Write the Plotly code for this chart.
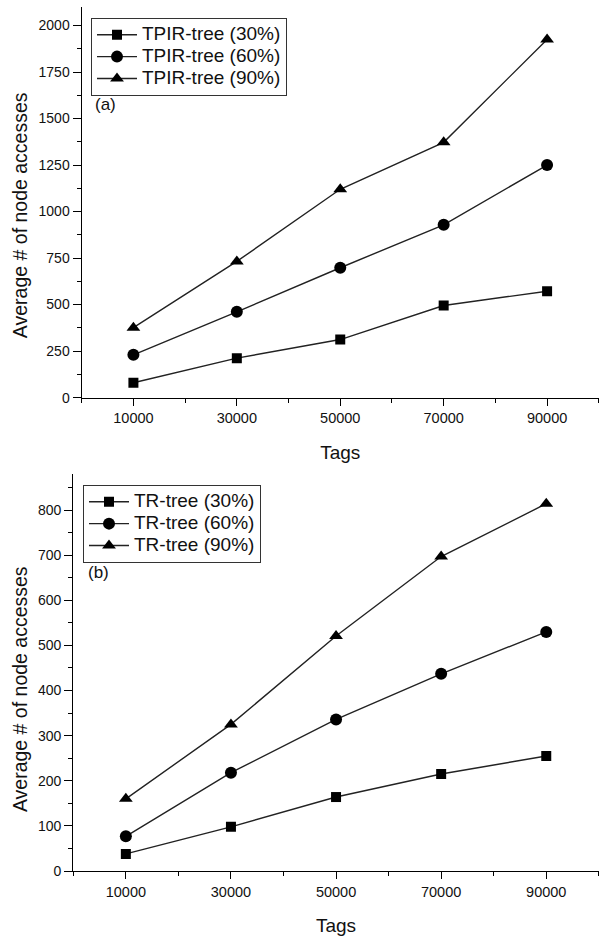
import plotly.graph_objects as go

tags = [10000, 30000, 50000, 70000, 90000]

# (a) TPIR-tree
tpir_30 = [80, 212, 312, 495, 572]
tpir_60 = [230, 461, 698, 929, 1250]
tpir_90 = [376, 732, 1120, 1372, 1925]

# (b) TR-tree
tr_30 = [38, 98, 164, 215, 255]
tr_60 = [77, 218, 336, 437, 530]
tr_90 = [160, 325, 521, 697, 814]

x_tickvals = [10000, 30000, 50000, 70000, 90000]
x_ticktext = ["10000", "30000", "50000", "70000", "90000"]
x_minor = [0, 20000, 40000, 60000, 80000, 100000]
y_title = "Average # of node accesses"

FONT = "Liberation Sans, Arial, sans-serif"
LINE = dict(color="#222222", width=1.4)

fig = go.Figure()

series_a = [("TPIR-tree (30%)", tpir_30, "square", 10),
            ("TPIR-tree (60%)", tpir_60, "circle", 12),
            ("TPIR-tree (90%)", tpir_90, "triangle-up", 12)]
series_b = [("TR-tree (30%)", tr_30, "square", 10),
            ("TR-tree (60%)", tr_60, "circle", 12),
            ("TR-tree (90%)", tr_90, "triangle-up", 12)]


def big(s):
    return '<span style="font-size:19px">' + s + '</span>'


for name, ys, sym, sz in series_a:
    fig.add_trace(go.Scatter(x=tags, y=ys, name=big(name), mode="lines+markers",
                             line=LINE, marker=dict(symbol=sym, size=sz, color="black"),
                             xaxis="x", yaxis="y", legend="legend"))
for name, ys, sym, sz in series_b:
    fig.add_trace(go.Scatter(x=tags, y=ys, name=big(name), mode="lines+markers",
                             line=LINE, marker=dict(symbol=sym, size=sz, color="black"),
                             xaxis="x2", yaxis="y2", legend="legend2"))

H = 943.0
W = 600.0


def xax(domain_left, anchor):
    return dict(domain=[domain_left, 0.998], range=[0, 100000], anchor=anchor,
                tickmode="array", tickvals=x_tickvals, ticktext=x_ticktext,
                ticks="outside", ticklen=7, tickwidth=1.3, tickcolor="black",
                minor=dict(tickmode="array", tickvals=x_minor, ticks="outside",
                           ticklen=4, tickwidth=1.3, tickcolor="black"),
                showline=True, linecolor="black", linewidth=1.4,
                showgrid=False, zeroline=False,
                tickfont=dict(family=FONT, size=14.5, color="#111"),
                title=dict(text="Tags", font=dict(family=FONT, size=19, color="#111"),
                           standoff=20))


def yax(domain, rng, dtick, anchor):
    return dict(domain=domain, range=rng, anchor=anchor,
                tick0=0, dtick=dtick,
                ticks="outside", ticklen=8, tickwidth=1.3, tickcolor="black",
                minor=dict(dtick=dtick / 2, tick0=0, ticks="outside",
                           ticklen=4, tickwidth=1.3, tickcolor="black"),
                showline=True, linecolor="black", linewidth=1.4,
                showgrid=False, zeroline=False,
                tickfont=dict(family=FONT, size=14, color="#111"))


legend_common = dict(xanchor="left", yanchor="top",
                     bordercolor="#333", borderwidth=1, bgcolor="white",
                     font=dict(family=FONT, size=14.5, color="#111"),
                     itemwidth=40, tracegroupgap=0)

fig.update_layout(
    width=600, height=943,
    margin=dict(l=0, r=0, t=0, b=0),
    paper_bgcolor="white", plot_bgcolor="white",
    font=dict(family=FONT, color="#111"),
    xaxis=xax(81.7 / W, "y"),
    yaxis=yax([1 - 401 / H, 1 - 7 / H], [0, 2100], 250, "x"),
    xaxis2=xax(73.3 / W, "y2"),
    yaxis2=yax([1 - 878.5 / H, 1 - 478 / H], [0, 880], 100, "x2"),
    legend=dict(x=91 / W, y=1 - 18 / H, **legend_common),
    legend2=dict(x=83 / W, y=1 - 489 / H, **legend_common),
    showlegend=True,
    annotations=[
        dict(text="(a)", x=93 / W, y=1 - 105 / H, xref="paper", yref="paper",
             xanchor="left", yanchor="middle", showarrow=False,
             font=dict(family=FONT, size=17, color="#111")),
        dict(text="(b)", x=86 / W, y=1 - 577 / H, xref="paper", yref="paper",
             xanchor="left", yanchor="middle", showarrow=False,
             font=dict(family=FONT, size=17, color="#111")),
        dict(text=y_title, x=7 / W, y=1 - 217 / H, xref="paper", yref="paper",
             xanchor="left", yanchor="middle", showarrow=False, textangle=-90,
             font=dict(family=FONT, size=19.5, color="#111")),
        dict(text=y_title, x=7 / W, y=1 - 695 / H, xref="paper", yref="paper",
             xanchor="left", yanchor="middle", showarrow=False, textangle=-90,
             font=dict(family=FONT, size=19.5, color="#111")),
    ],
)

fig.write_html("out.html")
